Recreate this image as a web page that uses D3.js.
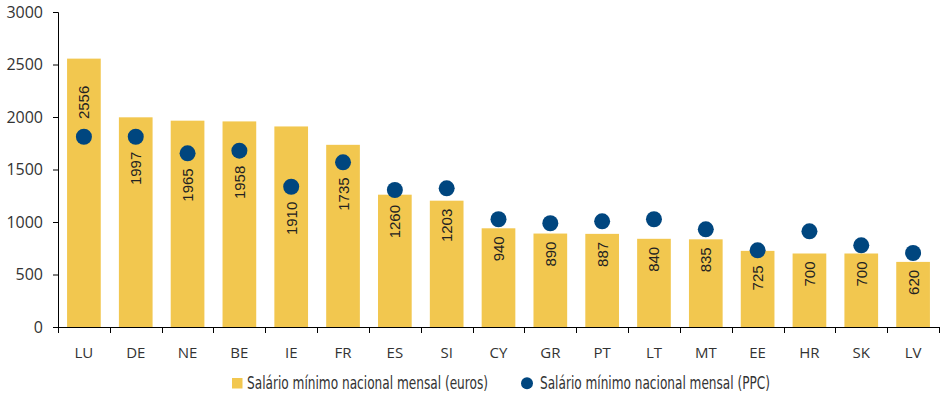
<!DOCTYPE html>
<html><head><meta charset="utf-8">
<script src="https://cdn.jsdelivr.net/npm/d3@7"></script>
<style>
html,body{margin:0;padding:0;background:#fff;}
svg{display:block;}
</style></head>
<body>
<svg id="c" width="945" height="396"></svg>
<script>
const categories = ["LU","DE","NE","BE","IE","FR","ES","SI","CY","GR","PT","LT","MT","EE","HR","SK","LV"];
const euros = [2556,1997,1965,1958,1910,1735,1260,1203,940,890,887,840,835,725,700,700,620];
const ppc = [1812,1812,1654,1679,1336,1568,1305,1321,1026,988,1006,1026,930,730,911,778,705];
const yTicks = [0,500,1000,1500,2000,2500,3000];
const legendLabels = ["Salário mínimo nacional mensal (euros)","Salário mínimo nacional mensal (PPC)"];

const barColor = "#F2C74F", dotColor = "#00467F";
const svg = d3.select("#c");
const mLeft = 58, mRight = 939, mTop = 12, mBottom = 327;

const x = d3.scaleBand().domain(categories).range([mLeft, mRight]).paddingInner(0.35).paddingOuter(0.175);
const y = d3.scaleLinear().domain([0, 3000]).range([mBottom, mTop]);
const step = x.step();

// bars
svg.append("g").selectAll("rect").data(categories).join("rect")
  .attr("x", d => x(d)).attr("width", x.bandwidth())
  .attr("y", (d,i) => y(euros[i])).attr("height", (d,i) => y(0) - y(euros[i]))
  .attr("fill", barColor);

// y axis
const yAxis = d3.axisLeft(y).tickValues(yTicks).tickSize(5).tickPadding(10).tickFormat(d3.format("d"));
const gy = svg.append("g").attr("transform", `translate(${mLeft},0)`).call(yAxis);
gy.select(".domain").attr("stroke", "#000");
gy.selectAll(".tick line").attr("stroke", "#000");
gy.selectAll("text").attr("font-family", "'Open Sans', sans-serif").attr("font-size", 16).attr("fill", "#333");

// x axis line
svg.append("line").attr("x1", mLeft).attr("x2", mRight).attr("y1", mBottom + 0.5).attr("y2", mBottom + 0.5).attr("stroke", "#000");
// ticks at band boundaries
const bounds = categories.map(c => x(c) - step * x.paddingInner() / 2).concat([mRight]);
svg.append("g").selectAll("line").data(bounds).join("line")
  .attr("x1", d => Math.round(d) + 0.5).attr("x2", d => Math.round(d) + 0.5)
  .attr("y1", mBottom).attr("y2", mBottom + 6).attr("stroke", "#000");
// x labels
svg.append("g").selectAll("text").data(categories).join("text")
  .attr("x", d => x(d) + x.bandwidth() / 2).attr("y", 358)
  .attr("text-anchor", "middle")
  .attr("font-family", "'Open Sans', sans-serif")
  .attr("font-size", 15).attr("fill", "#333").text(d => d);

// dots
const r = 8;
svg.append("g").selectAll("circle").data(categories).join("circle")
  .attr("cx", d => x(d) + x.bandwidth() / 2).attr("cy", (d,i) => y(ppc[i])).attr("r", r)
  .attr("fill", dotColor);

// value labels (rotated), placed to avoid the dots
const labelLen = 35;
svg.append("g").selectAll("text").data(categories).join("text")
  .each(function(d, i) {
    const barTop = y(euros[i]);
    const dotY = y(ppc[i]);
    let topPos;
    if (dotY - r - barTop > labelLen + 30) {
      topPos = dotY - r - 8 - labelLen;
    } else {
      topPos = Math.max(barTop + 8, dotY + r + 7);
    }
    const cx = x(d) + x.bandwidth() / 2;
    d3.select(this)
      .attr("transform", `translate(${cx + 5.5},${topPos}) rotate(-90)`)
      .attr("text-anchor", "end")
      .attr("font-family", "'Liberation Sans', Arial, sans-serif")
      .attr("font-size", 15).attr("fill", "#222")
      .text(euros[i]);
  });

// legend
const lg = svg.append("g").attr("font-family", "'Liberation Sans Narrow', 'DejaVu Sans Condensed', sans-serif").attr("font-size", 17).attr("fill", "#333");
lg.append("rect").attr("x", 232).attr("y", 378).attr("width", 10.5).attr("height", 10.5).attr("fill", barColor);
lg.append("text").attr("x", 247).attr("y", 388.5).attr("textLength", 241).attr("lengthAdjust", "spacingAndGlyphs").text(legendLabels[0]);
lg.append("circle").attr("cx", 527).attr("cy", 383.3).attr("r", 6).attr("fill", dotColor);
lg.append("text").attr("x", 540).attr("y", 388.5).attr("textLength", 230).attr("lengthAdjust", "spacingAndGlyphs").text(legendLabels[1]);
</script>
</body></html>
